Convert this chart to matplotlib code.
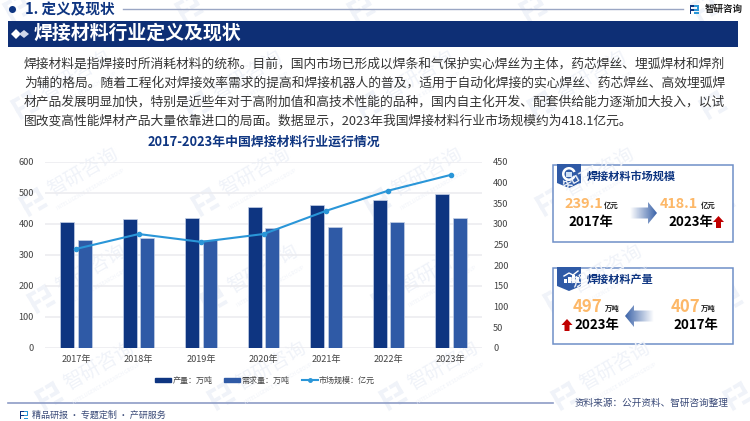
import numpy as np
import matplotlib
import matplotlib.pyplot as plt
from matplotlib.patches import Rectangle, Polygon, Circle, Wedge
from matplotlib.lines import Line2D
from matplotlib.transforms import Affine2D

matplotlib.use('Agg')
plt.rcParams['font.family'] = ['Noto Sans CJK SC', 'DejaVu Sans']

years = ['2017年', '2018年', '2019年', '2020年', '2021年', '2022年', '2023年']
production = [407, 415, 419, 455, 459, 476, 497]
demand = [346, 355, 348, 386, 390, 404, 420]
market_size = [239.1, 275, 256, 275, 331, 380, 418.1]
left_ticks = [0, 100, 200, 300, 400, 500, 600]
right_ticks = [0, 50, 100, 150, 200, 250, 300, 350, 400, 450]

body_lines = [
    '焊接材料是指焊接时所消耗材料的统称。目前，国内市场已形成以焊条和气保护实心焊丝为主体，药芯焊丝、埋弧焊材和焊剂',
    '为辅的格局。随着工程化对焊接效率需求的提高和焊接机器人的普及，适用于自动化焊接的实心焊丝、药芯焊丝、高效埋弧焊',
    '材产品发展明显加快，特别是近些年对于高附加值和高技术性能的品种，国内自主化开发、配套供给能力逐渐加大投入，以试',
    '图改变高性能焊材产品大量依靠进口的局面。数据显示，2023年我国焊接材料行业市场规模约为418.1亿元。',
]

NAVY = '#0e3581'
BLUE = '#2f5aa6'
LINE = '#2a96d8'
ORANGE = '#fdb868'
WM = '#f0f3f9'


def draw_logo(ax, x, y, s, color1, color2, angle=0):
    # small company mark, built from bars around (x, y)
    tr = Affine2D().scale(s).rotate_deg(angle).translate(x, y) + ax.transData
    for r in [(-1, -1, 0.9, 0.35), (-1, -1, 0.35, 2), (-1, -0.1, 0.9, 0.35)]:
        ax.add_patch(Rectangle(r[:2], r[2], r[3], color=color1, lw=0, transform=tr))
    for r in [(0.1, -1, 0.9, 0.35), (0.65, -1, 0.35, 1.2), (0.1, -0.1, 0.9, 0.35), (0.1, 0.65, 0.9, 0.35)]:
        ax.add_patch(Rectangle(r[:2], r[2], r[3], color=color2, lw=0, transform=tr))


def red_arrow(ax, x, y):
    pts = [(x - 5.5, y), (x, y - 6), (x + 5.5, y), (x + 2.5, y), (x + 2.5, y + 6), (x - 2.5, y + 6), (x - 2.5, y)]
    ax.add_patch(Polygon(pts, color='#c00000', lw=0))


def grad_arrow(ax, x0, x1, y, left=False):
    # block arrow fading out towards its tail
    h = 5.5
    tip = 9
    if left:
        pts = [(x0, y), (x0 + tip, y - 2 * h), (x0 + tip, y - h), (x1, y - h), (x1, y + h), (x0 + tip, y + h), (x0 + tip, y + 2 * h)]
        fade = np.linspace(1, 0, 64)
    else:
        pts = [(x1, y), (x1 - tip, y - 2 * h), (x1 - tip, y - h), (x0, y - h), (x0, y + h), (x1 - tip, y + h), (x1 - tip, y + 2 * h)]
        fade = np.linspace(0, 1, 64)
    rgba = np.zeros((1, 64, 4))
    rgba[..., :3] = matplotlib.colors.to_rgb('#3a62a8')
    rgba[..., 3] = fade
    im = ax.imshow(rgba, extent=(x0, x1, y + 2 * h, y - 2 * h), aspect='auto', zorder=3)
    poly = Polygon(pts, transform=ax.transData, fc='none', ec='none')
    ax.add_patch(poly)
    im.set_clip_path(poly)


fig = plt.figure(figsize=(7.5, 4.21), dpi=100)

# page layer in pixel coordinates
bg = fig.add_axes([0, 0, 1, 1], zorder=0)
bg.set_xlim(0, 750)
bg.set_ylim(421, 0)
bg.axis('off')

# watermarks, only those whose text stays inside the page
for i in range(-1, 5):
    for j in range(0, 5):
        lx = 17 + 172 * i + 8 * j
        ly = 8 + 97 * j
        draw_logo(bg, lx, ly, 11, WM, WM, -30)
        if 50 < lx + 50 < 700 and 40 < ly - 30 < 385:
            bg.text(lx + 50, ly - 30, '智研咨询', color=WM, fontsize=14, rotation=30,
                    ha='center', va='center')
            bg.text(lx + 58, ly - 13, 'INTELLIGENCE RESEARCH GROUP', color=WM, fontsize=3.5,
                    rotation=30, ha='center', va='center')

# header
bg.add_patch(Circle((12.5, 9.5), 3.5, color=NAVY, lw=0))
bg.text(25, 9.5, '1. 定义及现状', color=NAVY, fontsize=10.5, fontweight='bold', va='center')
bg.plot([123, 683], [9, 9], color='#9aa6c4', lw=1)
draw_logo(bg, 694, 9.5, 4.5, NAVY, '#2a96d8')
bg.text(705, 9, '智研咨询', color='#222222', fontsize=6.8, fontweight='bold', va='center')

bg.add_patch(Rectangle((8, 21), 730, 26, color='#0e2f75', lw=0))
bg.add_patch(Polygon([(11, 34), (16, 29), (21, 34), (16, 39)], color='white', lw=0))
bg.add_patch(Polygon([(19, 34), (24, 30), (29, 34), (24, 38)], color='#d0d8ea', lw=0))
bg.text(34, 33.5, '焊接材料行业定义及现状', color='white', fontsize=13.6, fontweight='bold', va='center')

# body text
for k, line in enumerate(body_lines):
    bg.text(24, 64 + 19 * k, line, color='#333333', fontsize=9.2, va='center')

bg.text(263.5, 141.5, '2017-2023年中国焊接材料行业运行情况', color=NAVY, fontsize=9.25,
        fontweight='bold', ha='center', va='center')

# chart
ax = fig.add_axes([45 / 750, 1 - 347.7 / 421, 437 / 750, 186 / 421], zorder=1)
ax.patch.set_alpha(0)
x = np.arange(len(years))
ax.bar(x - 0.14, production, 0.225, color=NAVY, edgecolor='#c5d0e6', lw=0.5, zorder=2)
ax.bar(x + 0.14, demand, 0.225, color=BLUE, edgecolor='#c5d0e6', lw=0.5, zorder=2)
ax.set_xlim(-0.5, 6.5)
ax.set_ylim(0, 600)
ax.set_yticks(left_ticks)
ax.set_xticks(x, years)
ax.grid(axis='y', color='#ececf0', lw=1.2, zorder=0)
ax.set_axisbelow(True)
ax.tick_params(length=0, labelsize=6.6, labelcolor='#444444')
ax.tick_params(axis='x', pad=5.5)
ax.tick_params(axis='y', pad=8)
for s in ax.spines.values():
    s.set_visible(False)

ax2 = ax.twinx()
ax2.plot(x, market_size, color=LINE, lw=1.5, marker='o', ms=3, zorder=5)
ax2.set_ylim(0, 450)
ax2.set_yticks(right_ticks)
ax2.tick_params(length=0, labelsize=6.6, labelcolor='#444444', pad=8)
for s in ax2.spines.values():
    s.set_visible(False)

# legend
handles = [Rectangle((0, 0), 1, 1, color=NAVY), Rectangle((0, 0), 1, 1, color=BLUE),
           Line2D([], [], color=LINE, lw=1.5, marker='o', ms=2.5)]
labels = ['产量：万吨', '需求量：万吨', '市场规模：亿元']
fig.legend(handles, labels, ncol=3, frameon=False, fontsize=5.8, labelcolor='#444444',
           loc='center', bbox_to_anchor=(265 / 750, 1 - 380 / 421), handlelength=2.0,
           handleheight=0.4, handletextpad=0.15, columnspacing=1.5, borderpad=0)

# footer
bg.plot([8, 553], [403, 403], color='#8d9cc6', lw=1.2)
draw_logo(bg, 24, 415, 4, NAVY, '#2a96d8')
bg.text(32, 415, '精品研报 · 专题定制 · 产研服务', color='#3a4a78', fontsize=6.5, va='center')
bg.text(575, 403, '资料来源：公开资料、智研咨询整理', color='#3a4a78', fontsize=6.9, va='center')

# right cards
for top, bot in [(165, 242), (268, 344)]:
    bg.add_patch(Rectangle((553, top), 180, bot - top, fc='white', ec='#6f8fc8', lw=1.1))
    bg.add_patch(Polygon([(557, top - 1), (581, top - 1), (581, top + 18), (569, top + 23), (557, top + 18)],
                         color=BLUE, lw=0))

# card 1 badge icon
bg.add_patch(Wedge((569, 174), 7, 20, 340, width=2.5, color='white', lw=0))
bg.add_patch(Rectangle((566, 172), 6, 5, color='#cfe0f5', lw=0))
bg.text(587, 176, '焊接材料市场规模', color=NAVY, fontsize=8, fontweight='bold', va='center')
bg.text(564, 204, '239.1', color=ORANGE, fontsize=10.4, fontweight='bold', va='center')
bg.text(603.5, 205.5, '亿元', color='#222222', fontsize=5.3, fontweight='bold', va='center')
bg.text(568, 222, '2017年', color='black', fontsize=9.6, fontweight='bold', va='center')
grad_arrow(bg, 630, 657, 213)
bg.text(660, 204, '418.1', color=ORANGE, fontsize=10.4, fontweight='bold', va='center')
bg.text(701, 205.5, '亿元', color='#222222', fontsize=5.3, fontweight='bold', va='center')
bg.text(668, 222, '2023年', color='black', fontsize=9.6, fontweight='bold', va='center')
red_arrow(bg, 718.5, 222)

# card 2 badge icon
for bx, bh in [(564, 4), (568, 6), (572, 8), (576, 6)]:
    bg.add_patch(Rectangle((bx, 283 - bh), 2.6, bh, color='white', lw=0))
bg.plot([564, 569, 573, 578], [276, 273, 275, 271], color='white', lw=1)
bg.text(587, 279, '焊接材料产量', color=NAVY, fontsize=8, fontweight='bold', va='center')
bg.text(573, 307, '497', color=ORANGE, fontsize=12, fontweight='bold', va='center')
bg.text(605, 308, '万吨', color='#222222', fontsize=5.3, fontweight='bold', va='center')
red_arrow(bg, 567, 325)
bg.text(574, 325, '2023年', color='black', fontsize=9.6, fontweight='bold', va='center')
grad_arrow(bg, 625, 654, 316, left=True)
bg.text(671, 307, '407', color=ORANGE, fontsize=12, fontweight='bold', va='center')
bg.text(701, 308, '万吨', color='#222222', fontsize=5.3, fontweight='bold', va='center')
bg.text(673, 325, '2017年', color='black', fontsize=9.6, fontweight='bold', va='center')

bg.set_xlim(0, 750)
bg.set_ylim(421, 0)

fig.savefig('out.png', dpi=100)
